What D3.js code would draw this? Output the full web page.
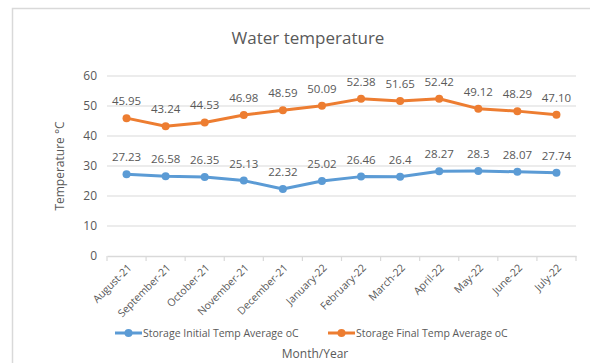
<!DOCTYPE html>
<html><head><meta charset="utf-8">
<script src="https://cdn.jsdelivr.net/npm/d3@7"></script>
<style>body{margin:0;background:#fff;} text{font-family:"Open Sans",sans-serif;}</style>
</head><body><svg id="c" width="590" height="363"></svg>
<script>
const categories = ["August-21","September-21","October-21","November-21","December-21","January-22","February-22","March-22","April-22","May-22","June-22","July-22"];
const initialTemp = [27.23,26.58,26.35,25.13,22.32,25.02,26.46,26.4,28.27,28.3,28.07,27.74];
const initialLabels = ["27.23","26.58","26.35","25.13","22.32","25.02","26.46","26.4","28.27","28.3","28.07","27.74"];
const finalTemp = [45.95,43.24,44.53,46.98,48.59,50.09,52.38,51.65,52.42,49.12,48.29,47.10];
const finalLabels = ["45.95","43.24","44.53","46.98","48.59","50.09","52.38","51.65","52.42","49.12","48.29","47.10"];
const yTicks = [0,10,20,30,40,50,60];
const seriesNames = ["Storage Initial Temp Average oC","Storage Final Temp Average oC"];
const colors = ["#5b9bd5","#ed7d31"];

const svg = d3.select("#c");
const grey = "#595959";
// frame
svg.append("path").attr("d","M12.5,363 L12.5,8.5 L590,8.5").attr("fill","none").attr("stroke","#d9d9d9").attr("stroke-width",1.5);

const x = d3.scaleBand().domain(categories).range([107,576]);
const y = d3.scaleLinear().domain([0,60]).range([256,76]);

// gridlines
svg.append("g").selectAll("line").data(yTicks.filter(d=>d>0)).join("line")
  .attr("x1",107).attr("x2",576).attr("y1",d=>y(d)).attr("y2",d=>y(d))
  .attr("stroke","#d9d9d9").attr("stroke-width",1);

// y labels
svg.append("g").selectAll("text").data(yTicks).join("text")
  .attr("x",97).attr("y",d=>y(d)).attr("dy","0.35em").attr("text-anchor","end")
  .attr("fill",grey).attr("font-size",12).text(d=>d);

// x axis
const xa = svg.append("g").attr("transform","translate(0,256)")
  .call(d3.axisBottom(x).tickSize(0).tickFormat(""));
xa.select(".domain").attr("stroke","#d9d9d9").attr("stroke-width",1.5);
const bounds = categories.map(c=>x(c)).concat([576]);
svg.append("g").selectAll("line").data(bounds).join("line")
  .attr("x1",d=>d).attr("x2",d=>d).attr("y1",256).attr("y2",261)
  .attr("stroke","#d9d9d9").attr("stroke-width",1.2);
svg.append("g").selectAll("text").data(categories).join("text")
  .attr("transform",d=>`translate(${x(d)+x.bandwidth()/2+3},${266}) rotate(-45)`)
  .attr("text-anchor","end").attr("dy","0.35em").attr("fill",grey).attr("font-size",10.5).text(d=>d);

// series
const cx = d=>x(d)+x.bandwidth()/2;
const line = d3.line().x(d=>cx(d[0])).y(d=>y(d[1]));
[[initialTemp,initialLabels],[finalTemp,finalLabels]].forEach(([vals,labs],i)=>{
  const pts = categories.map((c,j)=>[c,vals[j]]);
  svg.append("path").datum(pts).attr("d",line).attr("fill","none")
    .attr("stroke",colors[i]).attr("stroke-width",3).attr("stroke-linejoin","round");
  svg.append("g").selectAll("circle").data(pts).join("circle")
    .attr("cx",d=>cx(d[0])).attr("cy",d=>y(d[1])).attr("r",4).attr("fill",colors[i]);
  svg.append("g").selectAll("text").data(pts).join("text")
    .attr("x",d=>cx(d[0])).attr("y",d=>y(d[1])-17).attr("dy","0.35em")
    .attr("text-anchor","middle").attr("fill",grey).attr("font-size",11.5)
    .text((d,j)=>labs[j]);
});

// title
svg.append("text").attr("x",308).attr("y",38).attr("dy","0.35em").attr("text-anchor","middle")
  .attr("fill",grey).attr("font-size",17).text("Water temperature");
// y title
svg.append("text").attr("transform","translate(60,166) rotate(-90)").attr("text-anchor","middle")
  .attr("dy","0.35em").attr("fill",grey).attr("font-size",12).text("Temperature °C");
// x title
svg.append("text").attr("x",315).attr("y",354).attr("dy","0.35em").attr("text-anchor","middle")
  .attr("fill",grey).attr("font-size",12).text("Month/Year");

// legend
const leg = [{x:115,name:seriesNames[0],c:colors[0]},{x:328,name:seriesNames[1],c:colors[1]}];
leg.forEach(l=>{
  svg.append("line").attr("x1",l.x).attr("x2",l.x+27).attr("y1",333).attr("y2",333)
    .attr("stroke",l.c).attr("stroke-width",3);
  svg.append("circle").attr("cx",l.x+13.5).attr("cy",333).attr("r",4).attr("fill",l.c);
  svg.append("text").attr("x",l.x+28).attr("y",333).attr("dy","0.35em").attr("fill",grey)
    .attr("font-size",10.5).text(l.name);
});
</script></body></html>
